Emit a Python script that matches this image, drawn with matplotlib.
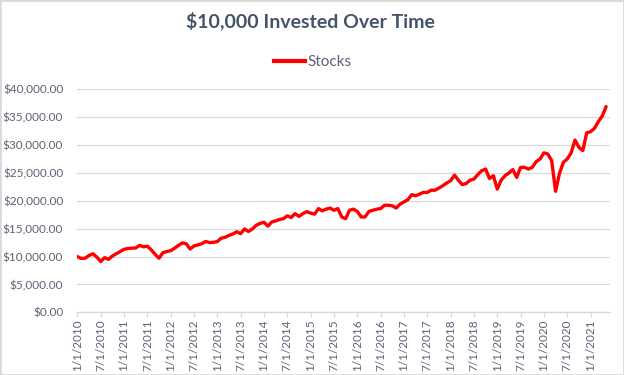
import matplotlib
matplotlib.use("Agg")
import matplotlib.pyplot as plt
import numpy as np
from matplotlib.ticker import FuncFormatter
from matplotlib.lines import Line2D
from matplotlib.patches import Rectangle

# ---- data (monthly values, starting 1/1/2010) ----
stocks = [
    10000, 9650, 9700, 10200, 10500, 9900, 9100, 9800, 9500, 10100, 10500, 10900,
    11300, 11450, 11500, 11550, 12000, 11750, 11850, 11200, 10400, 9700, 10700, 10900,
    11050, 11500, 12000, 12450, 12300, 11350, 11900, 12100, 12300, 12700, 12500, 12550,
    12700, 13300, 13450, 13800, 14050, 14450, 14100, 14950, 14500, 14950, 15600, 15950,
    16150, 15450, 16200, 16400, 16650, 16800, 17300, 17000, 17700, 17200, 17700, 18050,
    17800, 17600, 18600, 18200, 18500, 18700, 18300, 18600, 17100, 16800, 18300, 18500,
    18100, 17100, 17100, 18100, 18300, 18500, 18600, 19200, 19200, 19100, 18700, 19400,
    19800, 20200, 21100, 20900, 21200, 21500, 21500, 21900, 21900, 22300, 22700, 23200,
    23600, 24600, 23700, 22900, 23100, 23700, 23900, 24700, 25400, 25700, 24000, 24500,
    22100, 23700, 24500, 25000, 25600, 24200, 26000, 26000, 25700, 26000, 27000, 27500,
    28600, 28400, 27200, 21700, 24900, 26900, 27500, 28600, 30900, 29600, 29000, 32200,
    32400, 33000, 34200, 35200, 36900,
]
tick_labels = [
    "1/1/2010", "7/1/2010", "1/1/2011", "7/1/2011", "1/1/2012", "7/1/2012",
    "1/1/2013", "7/1/2013", "1/1/2014", "7/1/2014", "1/1/2015", "7/1/2015",
    "1/1/2016", "7/1/2016", "1/1/2017", "7/1/2017", "1/1/2018", "7/1/2018",
    "1/1/2019", "7/1/2019", "1/1/2020", "7/1/2020", "1/1/2021",
]
tick_months = [6 * i for i in range(len(tick_labels))]
y_ticks = [0, 5000, 10000, 15000, 20000, 25000, 30000, 35000, 40000]

plt.rcParams['font.family'] = ['Lato', 'DejaVu Sans']

W, H = 624, 375
fig = plt.figure(figsize=(W / 100, H / 100), dpi=100)
fig.patch.set_facecolor('white')

left, right, top, bottom = 77, 610, 89.3, 312.3
ax = fig.add_axes([left / W, 1 - bottom / H, (right - left) / W, (bottom - top) / H])

x = np.arange(len(stocks))
ax.plot(x, stocks, color='#FF0000', lw=2.4, solid_joinstyle='round',
        solid_capstyle='round', zorder=3)

ax.set_xlim(-0.1, 137)
ax.set_ylim(0, 40000)
ax.set_yticks(y_ticks)
ax.yaxis.set_major_formatter(FuncFormatter(lambda v, p: f"${v:,.2f}"))
ax.grid(axis='y', color='#D9D9D9', lw=0.9)
ax.set_axisbelow(True)
for s in ['top', 'right', 'left']:
    ax.spines[s].set_visible(False)
ax.spines['bottom'].set_color('#D9D9D9')
ax.spines['bottom'].set_linewidth(0.9)

text_col = '#5A6374'
ax.tick_params(axis='y', length=0, pad=10, labelsize=8.5, labelcolor=text_col)
ax.set_xticks(tick_months)
ax.set_xticklabels(tick_labels, rotation=90)
ax.tick_params(axis='x', length=3.5, width=0.9, color='#D9D9D9', pad=1.5,
               labelsize=8.5, labelcolor=text_col)

fig.text(310 / W, 1 - 21 / H, "$10,000 Invested Over Time", ha='center', va='center',
         fontsize=14, fontweight='bold', color='#44546A')

handle = Line2D([], [], color='#FF0000', lw=3)
leg = fig.legend(handles=[handle], labels=['Stocks'], loc='center',
                 bbox_to_anchor=(313 / W, 1 - 62 / H), frameon=False, fontsize=11,
                 handlelength=2.0, handletextpad=0.2)
for t in leg.get_texts():
    t.set_color(text_col)

fig.patches.append(Rectangle((0, 0), 1, 1, transform=fig.transFigure, fill=False,
                             edgecolor='#D9D9D9', lw=2))

fig.savefig("out.png", dpi=100)
